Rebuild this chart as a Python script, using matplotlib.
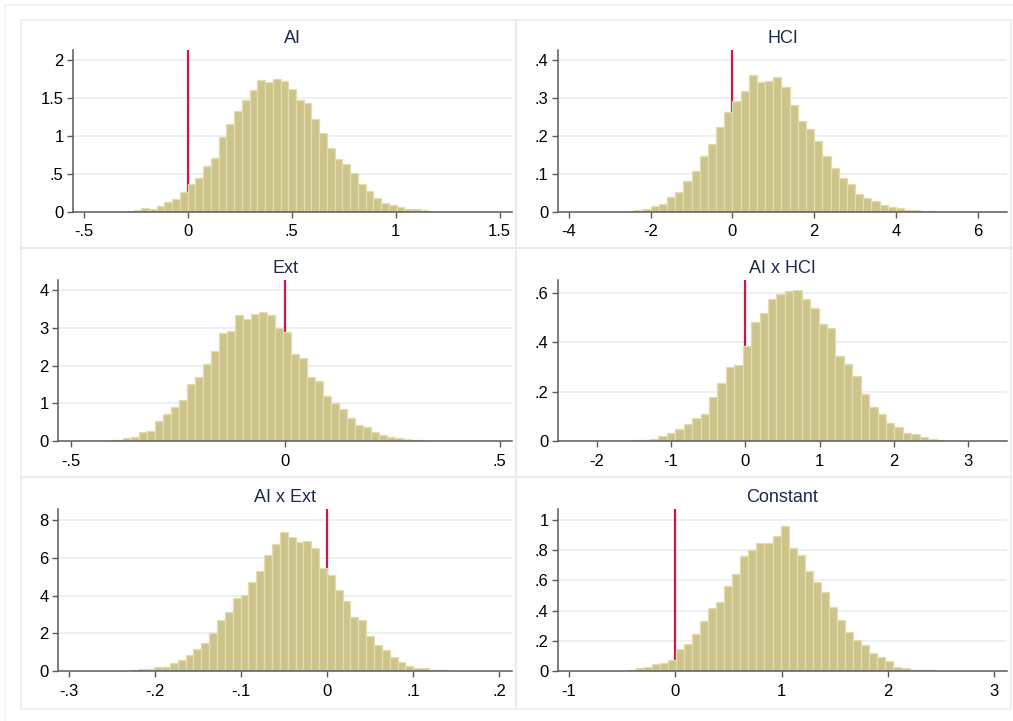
import numpy as np
import matplotlib
matplotlib.use("Agg")
import matplotlib.pyplot as plt
from matplotlib.patches import Rectangle
from matplotlib.ticker import FuncFormatter

plt.rcParams['font.family'] = ['Liberation Sans', 'DejaVu Sans']

# ---- histogram data (density) ----
# AI
ai_start, ai_width = -0.4836, 0.0372
ai_heights = [0.003, 0.0, 0.003, 0.004, 0.005, 0.01, 0.02, 0.053, 0.035, 0.075, 0.125, 0.17, 0.263,
              0.368, 0.443, 0.61, 0.706, 0.982, 1.153, 1.329, 1.469, 1.60, 1.732, 1.706, 1.746,
              1.719, 1.614, 1.469, 1.43, 1.224, 1.044, 0.842, 0.70, 0.632, 0.518, 0.368, 0.272,
              0.18, 0.123, 0.088, 0.06, 0.035, 0.035, 0.02, 0.005, 0.004, 0.004, 0.003]

# HCI
hci_start, hci_width = -3.6, 0.2
hci_heights = [0.001, 0.001, 0.0, 0.001, 0.001, 0.002, 0.004, 0.008, 0.016, 0.022, 0.039, 0.053,
               0.081, 0.107, 0.147, 0.179, 0.224, 0.263,
               0.292, 0.318, 0.36, 0.342, 0.344, 0.354, 0.328, 0.282, 0.239, 0.219, 0.187, 0.147,
               0.116, 0.089, 0.074, 0.047, 0.037, 0.028, 0.018, 0.013, 0.01, 0.005, 0.005, 0.002,
               0.002, 0.001, 0.001, 0.001, 0.001, 0.001, 0.001]

# Ext
ext_start, ext_width = -0.4358, 0.01868
ext_heights = [0.005, 0.03, 0.04, 0.08, 0.12, 0.24, 0.27, 0.54, 0.72, 0.90, 1.08, 1.51, 1.71, 2.03,
               2.38, 2.85, 2.91, 3.33, 3.22, 3.36, 3.41, 3.33, 3.0, 2.88, 2.30, 2.19, 1.69, 1.59,
               1.20, 1.0, 0.85, 0.61, 0.43, 0.37, 0.25, 0.17, 0.11, 0.09, 0.06, 0.03, 0.03, 0.005,
               0.003, 0.002, 0.002, 0.002, 0.002, 0.002]

# AI x HCI
aihci_start, aihci_width = -1.51, 0.1134
aihci_heights = [0.004, 0.006, 0.008, 0.022, 0.034, 0.05, 0.07, 0.093, 0.109, 0.178, 0.234, 0.299,
                 0.307, 0.386, 0.482, 0.517, 0.573, 0.594, 0.606, 0.61, 0.577, 0.537, 0.472, 0.456,
                 0.345, 0.311, 0.264, 0.19, 0.137, 0.11, 0.075, 0.057, 0.032, 0.03, 0.016, 0.008,
                 0.005]

# AI x Ext
aiext_start, aiext_width = -0.228, 0.00912
aiext_heights = [0.05, 0.10, 0.12, 0.21, 0.21, 0.44, 0.60, 0.85, 1.16, 1.50, 2.01, 2.70, 3.12, 3.86,
                 4.04, 4.72, 5.29, 6.13, 6.71, 7.37, 7.08, 6.82, 6.87, 6.52, 5.44,
                 5.11, 4.28, 3.70, 2.85, 2.70, 1.85, 1.39, 1.13, 0.76, 0.49, 0.28, 0.18, 0.17, 0.08,
                 0.06, 0.02]

# Constant
const_start, const_width = -0.449, 0.0758
const_heights = [0.009, 0.022, 0.031, 0.048, 0.055, 0.077,
                 0.145, 0.178, 0.244, 0.334, 0.415, 0.459, 0.563, 0.64, 0.758, 0.798, 0.848, 0.848,
                 0.89, 0.956, 0.813, 0.765, 0.662, 0.587, 0.521, 0.426, 0.336, 0.259, 0.207, 0.171,
                 0.119, 0.092, 0.066, 0.028, 0.022, 0.01, 0.01, 0.01]

titles = ["AI", "HCI", "Ext", "AI x HCI", "AI x Ext", "Constant"]
starts = [ai_start, hci_start, ext_start, aihci_start, aiext_start, const_start]
widths = [ai_width, hci_width, ext_width, aihci_width, aiext_width, const_width]
heights = [ai_heights, hci_heights, ext_heights, aihci_heights, aiext_heights, const_heights]
xticks = [[-.5, 0, .5, 1, 1.5], [-4, -2, 0, 2, 4, 6], [-.5, 0, .5],
          [-2, -1, 0, 1, 2, 3], [-.3, -.2, -.1, 0, .1, .2], [-1, 0, 1, 2, 3]]
yticks = [[0, .5, 1, 1.5, 2], [0, .1, .2, .3, .4], [0, 1, 2, 3, 4],
          [0, .2, .4, .6], [0, 2, 4, 6, 8], [0, .2, .4, .6, .8, 1]]
xlims = [(-0.55, 1.558), (-4.26, 6.71), (-0.53, 0.528), (-2.516, 3.516), (-0.312, 0.2146), (-1.10, 3.118)]
ylims = [2.13, 0.426, 4.27, 0.653, 8.56, 1.068]

W, H = 1013, 721
fig = plt.figure(figsize=(W / 100, H / 100), dpi=100)
fig.patch.set_facecolor('white')

frame_col = '#e6edf1'
# outer frame and panel frames
fig.add_artist(Rectangle((5 / W, 1 - 1200 / H), 2000 / W, 1195 / H, transform=fig.transFigure,
                         fill=False, ec='#eef2f4', lw=1.2))
col_x = [21, 516, 1011]
row_y = [20, 248, 477, 709]
for r in range(3):
    for c in range(2):
        x0, x1 = col_x[c], col_x[c + 1]
        y0, y1 = row_y[r], row_y[r + 1]
        fig.add_artist(Rectangle((x0 / W, 1 - y1 / H), (x1 - x0) / W, (y1 - y0) / H,
                                 transform=fig.transFigure, fill=False, ec=frame_col, lw=1.2))

# plot-area edges in pixels, one per panel
lefts = [73.3, 558.3, 58.3, 558.3, 58.3, 558.3]
rights = [511.7, 1006.7]
tops = [50, 279.7, 509.3]
bottoms = [212, 441.3, 671.3]


def stata_fmt(v, pos):
    s = ('%g' % round(v, 6))
    if s.startswith('0.'):
        s = s[1:]
    elif s.startswith('-0.'):
        s = '-' + s[2:]
    return s


for i in range(6):
    r, c = divmod(i, 2)
    l, rr = lefts[i], rights[c]
    t, b = tops[r], bottoms[r]
    ax = fig.add_axes([l / W, 1 - b / H, (rr - l) / W, (b - t) / H])
    ax.set_facecolor('white')
    h = np.array(heights[i])
    edges = starts[i] + widths[i] * np.arange(len(h))
    ax.axvline(0, color='#cc1745', lw=1.6, zorder=1)
    ax.bar(edges, h, width=widths[i], align='edge', color='#cdc48b',
           edgecolor='#e2dcae', linewidth=0.9, zorder=2)
    ax.set_xlim(*xlims[i])
    ax.set_ylim(0, ylims[i])
    ax.set_xticks(xticks[i])
    ax.set_yticks(yticks[i])
    ax.xaxis.set_major_formatter(FuncFormatter(stata_fmt))
    ax.yaxis.set_major_formatter(FuncFormatter(stata_fmt))
    for yv in yticks[i][1:]:
        ax.axhline(yv, color='#e9eff2', lw=1.2, zorder=0)
    for sp in ['top', 'right']:
        ax.spines[sp].set_visible(False)
    for sp in ['left', 'bottom']:
        ax.spines[sp].set_color('#5a5a5a')
        ax.spines[sp].set_linewidth(1.1)
        ax.spines[sp].set_zorder(3)
    ax.tick_params(axis='both', direction='out', length=4.5, width=1, color='#5a5a5a',
                   labelsize=12, labelcolor='black')
    ax.tick_params(axis='x', pad=4.5)
    ax.tick_params(axis='y', pad=2.5)
    ax.set_title(titles[i], fontsize=13, color='#1c2a4d', pad=5)

fig.savefig('out.png', dpi=100, facecolor='white')
